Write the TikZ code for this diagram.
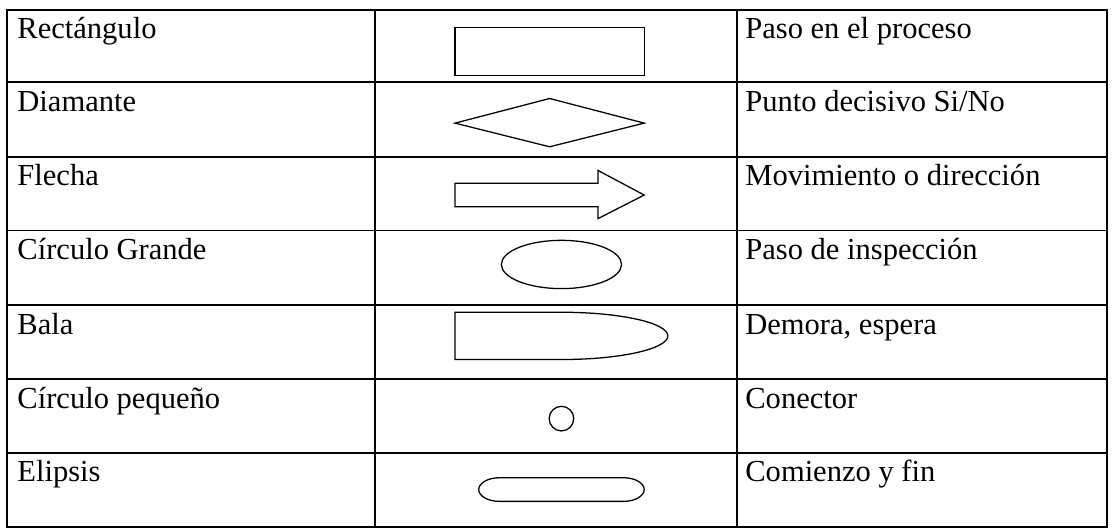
\documentclass[tikz,border=0pt]{standalone}
\usepackage{fontspec}
\setmainfont{Liberation Serif}
\begin{document}
\begin{tikzpicture}[x=1pt,y=-1pt,
  tbl/.style={line width=2pt},
  shp/.style={line width=1.3pt,line join=miter},
  txt/.style={anchor=base west,inner sep=0pt,font=\fontsize{31}{36}\selectfont}]
\useasboundingbox (0,0) rectangle (1134,540);
% table grid
\draw[tbl] (7,10) rectangle (1124,535);
\foreach \y in {83.5,159,234,310,385,460} \draw[tbl] (7,\y) -- (1124,\y);
\draw[tbl] (381,10) -- (381,535);
\draw[tbl] (748,10) -- (748,535);
% left column
\node[txt] (l1) at (17.5,39.3) {Rectángulo};
\node[txt] (l2) at (17.5,112.8) {Diamante};
\node[txt] (l3) at (17.5,188.3) {Flecha};
\node[txt] (l4) at (17.5,263.3) {Círculo Grande};
\node[txt] (l5) at (17.5,339.3) {Bala};
\node[txt] (l6) at (17.5,414.3) {Círculo pequeño};
\node[txt] (l7) at (17.5,489.3) {Elipsis};
% right column
\node[txt] (r1) at (756.5,39.3) {Paso en el proceso};
\node[txt] (r2) at (756.5,112.8) {Punto decisivo Si/No};
\node[txt] (r3) at (756.5,188.3) {Movimiento o dirección};
\node[txt] (r4) at (756.5,263.3) {Paso de inspección};
\node[txt] (r5) at (756.5,339.3) {Demora, espera};
\node[txt] (r6) at (756.5,414.3) {Conector};
\node[txt] (r7) at (756.5,489.3) {Comienzo y fin};
% shapes
\draw[shp] (462,28) rectangle (654,77);
\draw[shp] (462,125) -- (558,100) -- (654,125) -- (558,149) -- cycle;
\draw[shp] (462,186) -- (607,186) -- (607,173) -- (654,198) -- (607,222) -- (607,210) -- (462,210) -- cycle;
\draw[shp] (570,268.5) ellipse [x radius=61,y radius=24.5];
\draw[shp] (570,365) -- (462,365) -- (462,317) -- (570,317) arc[start angle=-90,end angle=90,x radius=108,y radius=24];
\draw[shp] (570,425) circle [radius=12.5];
\draw[shp] (507,485) -- (633,485) arc[start angle=-90,end angle=90,x radius=21,y radius=12] -- (507,509) arc[start angle=90,end angle=270,x radius=21,y radius=12];
\end{tikzpicture}
\end{document}
